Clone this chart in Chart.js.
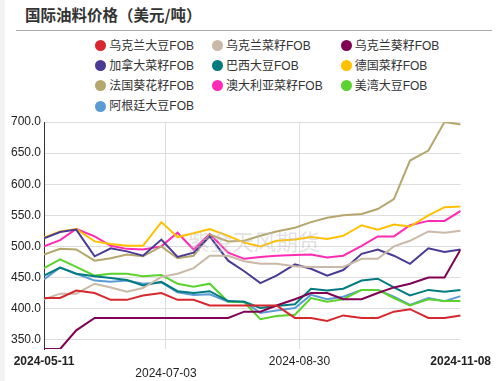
<!DOCTYPE html>
<html><head><meta charset="utf-8">
<script src="https://cdn.jsdelivr.net/npm/chart.js@4/dist/chart.umd.min.js"></script>
<style>
html,body{margin:0;padding:0;}
body{width:498px;height:381px;overflow:hidden;background:#fff;position:relative;font-family:"Liberation Sans","Noto Sans CJK SC",sans-serif;}
#strip{position:absolute;left:0;top:0;width:5px;height:381px;background:#f2f2f2;}
#title{position:absolute;left:25px;top:3px;font-family:"Noto Sans CJK SC",sans-serif;font-weight:bold;font-size:15.5px;color:#333;line-height:22px;white-space:nowrap;}
#sep{position:absolute;left:16px;top:30px;width:476px;height:1px;background:#aaa;}
.item{position:absolute;font-size:12px;color:#333;line-height:14px;white-space:nowrap;}
.dot{position:absolute;width:11px;height:11px;border-radius:50%;}
#wrap{position:absolute;left:0;top:0;width:498px;height:381px;}
#wm{position:absolute;left:188px;top:224px;font-family:"Noto Sans CJK SC",sans-serif;font-size:22px;color:rgba(190,190,190,0.45);white-space:nowrap;letter-spacing:0px;pointer-events:none;}
</style></head>
<body>
<div id="strip"></div>
<div id="title">国际油料价格（美元/吨）</div>
<div id="sep"></div>
<div id="legend"></div>
<div id="wrap"><canvas id="c" width="498" height="381" style="width:498px;height:381px"></canvas></div>
<div id="wm">紫金天风期货</div>
<script>
const dates = ['2024-05-11','2024-05-18','2024-05-25','2024-06-02','2024-06-09','2024-06-16','2024-06-23','2024-07-01','2024-07-08','2024-07-15','2024-07-22','2024-07-30','2024-08-06','2024-08-13','2024-08-20','2024-08-28','2024-09-04','2024-09-11','2024-09-18','2024-09-26','2024-10-03','2024-10-10','2024-10-17','2024-10-25','2024-11-01','2024-11-08'];
const tickLabels = ['2024-05-11','2024-07-03','2024-08-30','2024-11-08'];
const yTicks = [350,400,450,500,550,600,650,700];

const names = ['乌克兰大豆FOB','乌克兰菜籽FOB','乌克兰葵籽FOB','加拿大菜籽FOB','巴西大豆FOB','德国菜籽FOB','法国葵花籽FOB','澳大利亚菜籽FOB','美湾大豆FOB','阿根廷大豆FOB'];
const colors = ['#d7282f','#c9b9a6','#800053','#4b3a94','#007b80','#ffc000','#b5a66c','#ff2bb4','#5bd22e','#5b9bd5'];

const ukrSoy  = [417,417,429,425,414,414,421,425,414,414,405,405,405,405,405,385,385,380,389,385,385,395,399,385,385,389];
const ukrRape = [415,424,424,440,434,427,433,451,456,465,485,485,476,472,472,468,467,467,467,480,480,500,509,524,522,525];
const ukrSun  = [335,335,365,385,385,385,385,385,385,385,385,385,395,395,405,415,425,425,415,415,425,434,440,450,450,495];
const canRape = [513,523,527,484,497,492,485,511,483,490,516,477,460,441,453,471,464,453,462,488,495,485,472,497,491,495];
const braSoy  = [453,466,456,452,449,446,437,443,428,425,428,412,411,401,404,407,432,429,432,445,448,434,421,430,427,430];
const gerRape = [514,524,528,508,504,501,501,539,515,521,528,517,506,500,509,511,515,512,517,534,527,535,532,550,563,564];
const fraSun  = [487,496,495,477,481,487,484,500,481,485,519,508,509,517,524,530,539,546,550,552,560,576,638,654,700,696];
const ausRape = [500,510,528,516,501,496,495,500,522,495,520,490,480,483,485,486,487,482,485,501,516,516,534,541,541,557];
const usgSoy  = [465,479,467,453,456,456,452,454,440,435,440,411,410,383,388,390,417,411,415,430,430,417,405,415,412,412];
const argSoy  = [447,466,456,445,443,445,440,442,426,422,423,411,411,393,397,401,422,415,419,430,430,419,406,417,412,420];
const series = [ukrSoy,ukrRape,ukrSun,canRape,braSoy,gerRape,fraSun,ausRape,usgSoy,argSoy];

// legend (HTML)
const legCols = [[100.7,109.3],[217.3,226],[346,354.7]];
const legRows = [45.7,65.7,85.7,106];
const leg = document.getElementById('legend');
names.forEach((n,i)=>{
  const col = legCols[i%3], row = legRows[Math.floor(i/3)];
  const d = document.createElement('div'); d.className='dot';
  d.style.left=(col[0]-5.5)+'px'; d.style.top=(row-5.5)+'px'; d.style.background=colors[i];
  leg.appendChild(d);
  const t = document.createElement('div'); t.className='item';
  t.style.left=col[1]+'px'; t.style.top=(row-7)+'px'; t.textContent=n;
  leg.appendChild(t);
});

const day0 = Date.parse(dates[0]);
const toDay = s => (Date.parse(s)-day0)/86400000;
const days = dates.map(toDay);
const tickDays = tickLabels.map(toDay);

const FAM = '"Liberation Sans", Arial, sans-serif';
new Chart(document.getElementById('c'), {
  type:'line',
  data:{datasets: names.map((n,i)=>({
    label:n,
    data: days.map((d,j)=>({x:d,y:series[i][j]})),
    borderColor:colors[i], backgroundColor:colors[i],
    borderWidth:2, pointRadius:0, tension:0, fill:false
  }))},
  options:{
    responsive:false, animation:false, devicePixelRatio:1,
    layout:{padding:{top:122,left:0,right:35,bottom:0}},
    plugins:{legend:{display:false},title:{display:false},tooltip:{enabled:false}},
    scales:{
      x:{type:'linear', min:tickDays[0], max:tickDays[tickDays.length-1],
        afterBuildTicks:s=>{s.ticks=tickDays.map(v=>({value:v}));},
        afterFit:s=>{s.height=32;},
        ticks:{autoSkip:false,maxRotation:0,minRotation:0,padding:7,color:'#222',
          font:c=>({family:FAM,size:12,lineHeight:1,weight:(c.index===0||c.index===tickDays.length-1)?'bold':'normal'}),
          callback:(v,i)=> i===1?['',tickLabels[i]]:tickLabels[i]},
        grid:{drawTicks:false,lineWidth:1,color:c=>(c.index===1||c.index===2)?'#dddddd':'rgba(0,0,0,0)'},
        border:{display:false}
      },
      y:{min:335,max:700,
        afterBuildTicks:s=>{s.ticks=yTicks.map(v=>({value:v}));},
        afterFit:s=>{s.width=44;},
        ticks:{padding:3,color:'#222',font:{family:FAM,size:12},callback:v=>Number(v).toFixed(1)},
        grid:{drawTicks:false,color:'#dddddd',lineWidth:1},
        border:{display:true,color:'#333',width:1}
      }
    }
  }
});
</script>
</body></html>
